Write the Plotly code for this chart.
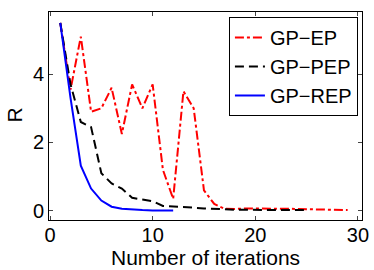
import plotly.graph_objects as go

ep_x = list(range(1, 30))
ep_y = [5.5, 3.55, 5.1, 2.9, 3.0, 3.6, 2.25, 3.7, 3.0, 3.7, 1.2, 0.35, 3.5, 3.0, 0.6,
        0.2, 0.06, 0.05, 0.07, 0.06, 0.07, 0.06, 0.06, 0.05, 0.05, 0.04, 0.03, 0.03, 0.02]
pep_x = list(range(1, 26))
pep_y = [5.5, 3.7, 2.6, 2.45, 1.1, 0.8, 0.65, 0.38, 0.33, 0.28, 0.14, 0.13, 0.11, 0.09,
         0.07, 0.05, 0.04, 0.03, 0.03, 0.02, 0.02, 0.02, 0.02, 0.02, 0.02]
rep_x = list(range(1, 13))
rep_y = [5.5, 3.3, 1.32, 0.65, 0.3, 0.12, 0.06, 0.03, 0.02, 0.01, 0.01, 0.01]

fig = go.Figure()
fig.add_trace(go.Scatter(x=ep_x, y=ep_y, mode="lines", name="GP\u2212EP",
                         line=dict(color="red", width=2, dash="dashdot")))
fig.add_trace(go.Scatter(x=pep_x, y=pep_y, mode="lines", name="GP\u2212PEP",
                         line=dict(color="black", width=2, dash="9px,5px")))
fig.add_trace(go.Scatter(x=rep_x, y=rep_y, mode="lines", name="GP\u2212REP",
                         line=dict(color="blue", width=2)))

axis_common = dict(showgrid=False, zeroline=False, ticks="inside", ticklen=4,
                   showline=True, linecolor="black", linewidth=1, mirror="ticks",
                   automargin=False,
                   tickfont=dict(size=20, color="black"))
fig.update_layout(
    template="none",
    width=374, height=270,
    margin=dict(l=49, r=12, t=12, b=50),
    paper_bgcolor="white", plot_bgcolor="white",
    font=dict(family="Liberation Sans, Arial, sans-serif", color="black"),
    xaxis=dict(range=[-0.1, 30.4], tickvals=[0, 10, 20, 30], ticklabelstandoff=-3,
               **axis_common),
    yaxis=dict(range=[-0.27, 5.82], tickvals=[0, 2, 4], **axis_common),
    legend=dict(x=0.987, y=0.976, xanchor="right", yanchor="top",
                bgcolor="white", bordercolor="black", borderwidth=1,
                font=dict(size=20), tracegroupgap=0, itemwidth=30),
    showlegend=True,
    annotations=[
        dict(text="Number of iterations", xref="paper", yref="paper",
             x=0.5, y=-0.182, xanchor="center", yanchor="middle",
             showarrow=False, font=dict(size=21)),
        dict(text="R", xref="paper", yref="paper", textangle=-90,
             x=-0.1086, y=0.502, xanchor="center", yanchor="middle",
             showarrow=False, font=dict(size=21)),
    ],
)
fig.write_html("out.html", config={"displayModeBar": False},
               post_script="document.body.style.margin='0';document.body.style.overflow='hidden';")
